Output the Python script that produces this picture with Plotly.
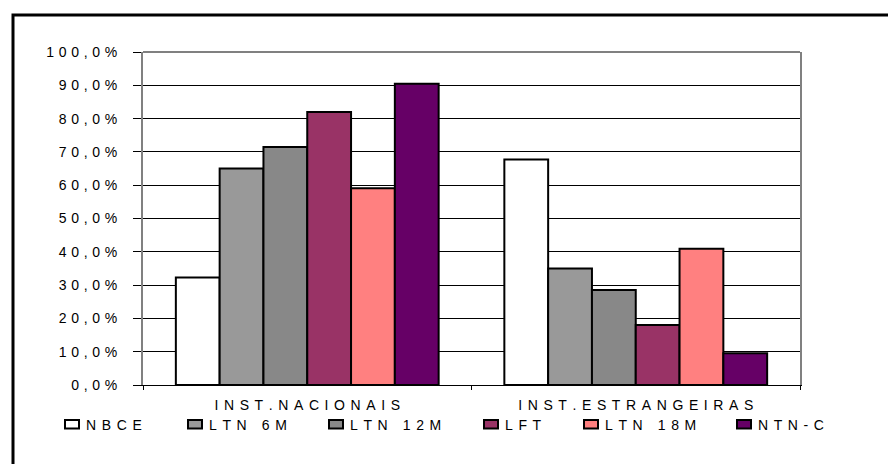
import plotly.graph_objects as go

# Categories and series (share of each security held, in %)
categories = ["INST.NACIONAIS", "INST.ESTRANGEIRAS"]
series_names = ["NBCE", "LTN 6M", "LTN 12M", "LFT", "LTN 18M", "NTN-C"]
nbce = [32.3, 67.7]
ltn_6m = [65.0, 35.0]
ltn_12m = [71.5, 28.5]
lft = [82.0, 18.0]
ltn_18m = [59.1, 40.9]
ntn_c = [90.5, 9.5]

y_tick_values = [0, 10, 20, 30, 40, 50, 60, 70, 80, 90, 100]
y_tick_labels = ["0,0%", "10,0%", "20,0%", "30,0%", "40,0%", "50,0%",
                 "60,0%", "70,0%", "80,0%", "90,0%", "100,0%"]

series_values = [nbce, ltn_6m, ltn_12m, lft, ltn_18m, ntn_c]
series_colors = ["#FFFFFF", "#999999", "#888888", "#993366", "#FF8080", "#660066"]

FONT = "Arial, 'Liberation Sans', sans-serif"
FS = 14
W, H = 888, 464
L, R, T, B = 143, 800, 52, 385   # plot box in pixels


def spaced(text, gap="\u2009\u2009"):
    """Wide letter spacing, as in the original typesetting."""
    return gap.join(text)


def px_x(px):
    return (px - L) / (R - L)


def px_y(py):
    return (B - py) / (B - T)


fig = go.Figure()
for name, vals, color in zip(series_names, series_values, series_colors):
    fig.add_trace(go.Bar(
        x=categories, y=vals, name=name,
        marker=dict(color=color, line=dict(color="black", width=2)),
        showlegend=False,
    ))

shapes = []
annotations = []

# outer frame (left and top edges visible)
shapes.append(dict(type="rect", xref="paper", yref="paper",
                   x0=px_x(13), x1=px_x(905), y0=px_y(480), y1=px_y(15),
                   line=dict(color="black", width=3), fillcolor="rgba(0,0,0,0)"))
# gray top edge of the plot box
shapes.append(dict(type="line", xref="paper", yref="paper",
                   x0=0, x1=1, y0=1, y1=1,
                   line=dict(color="#808080", width=2)))

# legend row
legend_left_px = [64, 187, 328, 483, 583, 736]
for left, name, color in zip(legend_left_px, series_names, series_colors):
    shapes.append(dict(type="rect", xref="paper", yref="paper",
                       x0=px_x(left + 1), x1=px_x(left + 15),
                       y0=px_y(428.5), y1=px_y(420),
                       fillcolor=color, line=dict(color="black", width=2)))
    annotations.append(dict(xref="paper", yref="paper",
                            x=px_x(left + 20), y=px_y(424.5),
                            text=spaced(name), showarrow=False,
                            xanchor="left", yanchor="middle",
                            font=dict(family=FONT, size=FS, color="black")))

fig.update_layout(
    width=W, height=H,
    margin=dict(l=L, r=W - R, t=T, b=H - B, pad=0),
    paper_bgcolor="white", plot_bgcolor="white",
    barmode="group", bargap=0.2, bargroupgap=0,
    font=dict(family=FONT, size=FS, color="black"),
    shapes=shapes, annotations=annotations,
    xaxis=dict(
        type="category",
        tickvals=categories, ticktext=[spaced(c) for c in categories],
        tickson="boundaries", ticks="outside", ticklen=4, tickcolor="black",
        showline=True, linecolor="black", linewidth=1,
        showgrid=False, ticklabelstandoff=7, tickfont=dict(size=FS),
    ),
    yaxis=dict(
        range=[0, 100],
        tickvals=y_tick_values,
        ticktext=[spaced(t, "\u2004") for t in y_tick_labels],
        ticks="outside", ticklen=8, tickcolor="black",
        showgrid=True, gridcolor="black", gridwidth=1,
        showline=True, linecolor="#808080", linewidth=2, mirror=True,
        zeroline=False, ticklabelstandoff=13, tickfont=dict(size=FS),
    ),
)

fig.write_html("out.html")
